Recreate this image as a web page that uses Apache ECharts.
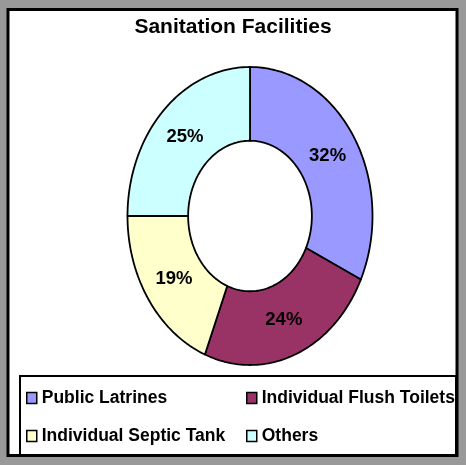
<!DOCTYPE html>
<html>
<head>
<meta charset="utf-8">
<script src="https://cdn.jsdelivr.net/npm/echarts@6/dist/echarts.min.js"></script>
<style>
html,body{margin:0;padding:0;background:#999999;}
#chart{width:466px;height:465px;}
</style>
</head>
<body>
<div id="chart"></div>
<script>
var title = 'Sanitation Facilities';
var categories = ['Public Latrines', 'Individual Flush Toilets', 'Individual Septic Tank', 'Others'];
var values = [32, 24, 19, 25];
var palette = ['#9999FF', '#993366', '#FFFFCC', '#CCFFFF'];

var total = values.reduce(function (a, b) { return a + b; }, 0);
var starts = [];
var acc = 0;
values.forEach(function (v) { starts.push(acc / total); acc += v; });

var INNER = 0.505;
var LABEL_R = 0.75;

function renderSlice(params, api) {
  var s = api.value(0) * Math.PI * 2;
  var e = api.value(1) * Math.PI * 2;
  var v = api.value(2);
  var n = 80;
  var pts = [];
  for (var k = 0; k <= n; k++) {
    var t = s + (e - s) * k / n;
    pts.push(api.coord([Math.sin(t), Math.cos(t)]));
  }
  for (var k2 = n; k2 >= 0; k2--) {
    var t2 = s + (e - s) * k2 / n;
    pts.push(api.coord([INNER * Math.sin(t2), INNER * Math.cos(t2)]));
  }
  var m = (s + e) / 2;
  var lp = api.coord([LABEL_R * Math.sin(m), LABEL_R * Math.cos(m)]);
  return {
    type: 'group',
    children: [
      {
        type: 'polygon',
        shape: { points: pts },
        style: { fill: api.visual('color'), stroke: '#000', lineWidth: 1.8, lineJoin: 'round' }
      },
      {
        type: 'text',
        x: lp[0], y: lp[1],
        style: {
          text: v + '%', fill: '#000',
          font: 'bold 18.5px "Liberation Sans", Arial, sans-serif',
          align: 'center', verticalAlign: 'middle'
        },
        z2: 10
      }
    ]
  };
}

var series = categories.map(function (c, i) {
  return {
    type: 'custom',
    name: c,
    coordinateSystem: 'cartesian2d',
    renderItem: renderSlice,
    clip: false,
    itemStyle: { color: palette[i], borderColor: '#000', borderWidth: 1.5 },
    encode: { x: 0, y: 1 },
    data: [[starts[i], starts[i] + values[i] / total, values[i]]],
    silent: true
  };
});

var legendCommon = {
  orient: 'vertical',
  icon: 'rect',
  itemWidth: 10,
  itemHeight: 11,
  itemGap: 20,
  itemTextGap: 7,
  padding: 0,
  selectedMode: false,
  itemStyle: { borderColor: '#000', borderWidth: 1.5 },
  textStyle: {
    fontFamily: '"Liberation Sans", Arial, sans-serif',
    fontWeight: 'bold', fontSize: 17.5, color: '#000', lineHeight: 18
  }
};

var chart = echarts.init(document.getElementById('chart'), null, { renderer: 'canvas' });
chart.setOption({
  backgroundColor: '#999999',
  animation: false,
  graphic: [
    { type: 'rect', shape: { x: 8, y: 9.5, width: 449, height: 446 },
      style: { fill: '#fff', stroke: '#000', lineWidth: 3 }, z: -10 },
    { type: 'rect', shape: { x: 20, y: 376, width: 436, height: 80 },
      style: { fill: 'none', stroke: '#000', lineWidth: 2 }, z: 10 }
  ],
  title: {
    text: title,
    left: 'center',
    top: 17,
    padding: 0,
    textStyle: {
      fontFamily: '"Liberation Sans", Arial, sans-serif',
      fontWeight: 'bold', fontSize: 21, color: '#000'
    }
  },
  legend: [
    Object.assign({}, legendCommon, { left: 26, top: 389, data: [categories[0], categories[2]] }),
    Object.assign({}, legendCommon, { left: 246, top: 389, data: [categories[1], categories[3]] })
  ],
  grid: { left: 127.5, top: 67, width: 245, height: 298 },
  xAxis: { type: 'value', min: -1, max: 1, show: false },
  yAxis: { type: 'value', min: -1, max: 1, show: false },
  series: series
});
</script>
</body>
</html>
